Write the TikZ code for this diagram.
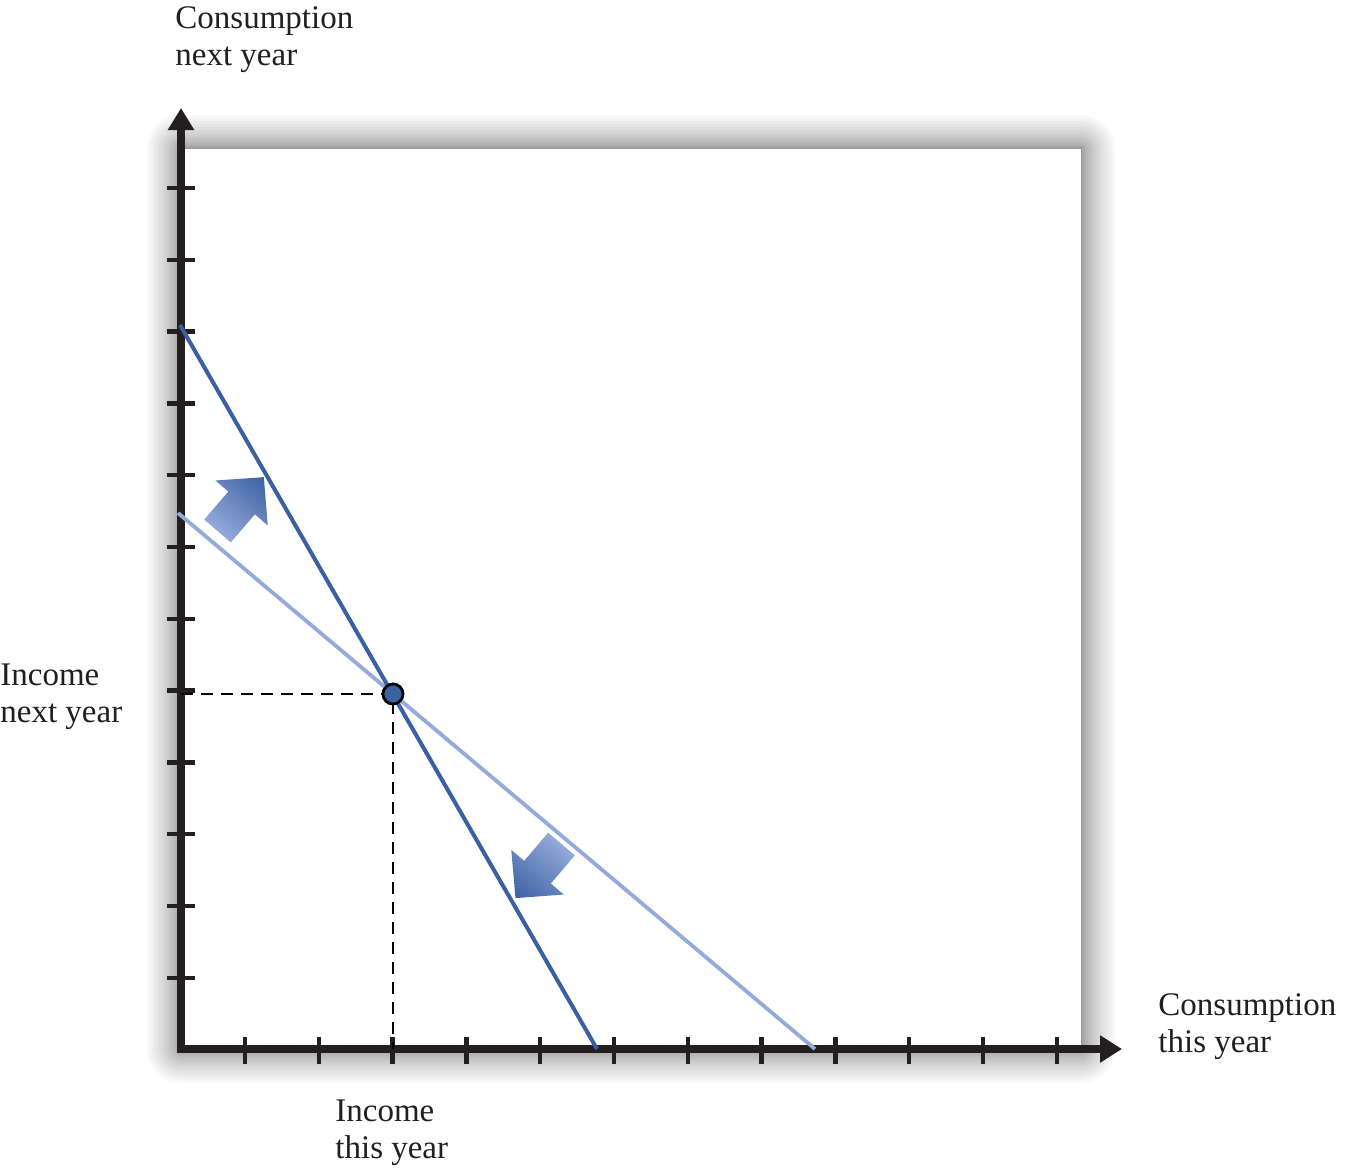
\documentclass[tikz,border=0pt]{standalone}
\usepackage{fontspec}
\setmainfont{Liberation Serif}
\usetikzlibrary{arrows.meta}
\definecolor{darkblue}{HTML}{3A5FA2}
\definecolor{lightblue}{HTML}{93ABDA}
\definecolor{arrowdark}{HTML}{3C61A3}
\definecolor{arrowlight}{HTML}{93A9D8}
\definecolor{axisblack}{HTML}{231F20}
\begin{document}
\begin{tikzpicture}[x=0.5pt,y=-0.5pt,
  axis/.style={line width=4pt, draw=axisblack, line join=miter},
  tickmark/.style={line width=2.2pt, draw=axisblack},
  lbl/.style={anchor=base west, inner sep=0pt, align=left, font=\fontsize{16.5}{18.5}\selectfont, text=axisblack},
  bline/.style={line width=2pt, draw=darkblue},
  lline/.style={line width=1.9pt, draw=lightblue},
  guide/.style={line width=1.2pt, draw=black, dash pattern=on 6pt off 4pt},
  pointstyle/.style={circle, fill=arrowdark, draw=black, line width=1.3pt, minimum size=10pt, inner sep=0pt},
  shiftarrow/.style={left color=arrowlight, middle color=arrowdark, right color=arrowdark}
]
\useasboundingbox (0,0) rectangle (1347,1168);

% glow around the plot area
\foreach \i in {1,...,20}{
  \pgfmathsetmacro\dd{34*(\i/20)^2}
  \pgfmathsetmacro\rr{0.5*\dd}
  \fill[black, opacity=0.027, rounded corners=\rr pt] ({181-\dd},{149-\dd}) rectangle ({1081+\dd},{1049+\dd});
}
\fill[white] (181,149) rectangle (1081,1049);

% axes
\coordinate (ytip) at (181,108);
\coordinate (O) at (181,1049);
\coordinate (xtip) at (1122,1049);
\draw[axis, {Triangle[length=11pt,width=12.5pt]}-{Triangle[length=11pt,width=13pt]}] (ytip) -- (O) -- (xtip);

% ticks
\foreach \k in {0,...,11}{
  \draw[tickmark] (167,{188+71.8*\k}) -- (195,{188+71.8*\k});
  \draw[tickmark] ({245+73.8*\k},1037) -- ({245+73.8*\k},1064);
}

% point
\node[pointstyle] (P) at (393,694) {};

% guides
\draw[guide] (O |- P) -- (P.center) -- (P |- O);

% budget lines
\coordinate (l1) at (178,513);
\coordinate (l2) at (815,1049);
\coordinate (d1) at (180,325);
\coordinate (d2) at (597,1049);
\draw[lline] (l1) -- (l2);
\draw[bline] (d1) -- (d2);

\node[pointstyle] at (P) {};

% shift arrows
\begin{scope}[transform canvas={shift={(217.5,531)},rotate=49.3}]
  \shade[shiftarrow] (0,-17.5) -- (37,-17.5) -- (37,-34.5) -- (71,0) -- (37,34.5) -- (37,17.5) -- (0,17.5) -- cycle;
\end{scope}
\begin{scope}[transform canvas={shift={(561.5,844)},rotate=229.6}]
  \shade[shiftarrow] (0,-17.5) -- (37,-17.5) -- (37,-34.5) -- (71,0) -- (37,34.5) -- (37,17.5) -- (0,17.5) -- cycle;
\end{scope}

% labels (anchor on the baseline of the last line)
\node[lbl] (cny) at (175,65) {Consumption\\next year};
\node[lbl] (iny) at (0,722) {Income\\next year};
\node[lbl] (ity) at (335,1158) {Income\\this year};
\node[lbl] (cty) at (1158,1052) {Consumption\\this year};
\end{tikzpicture}
\end{document}
